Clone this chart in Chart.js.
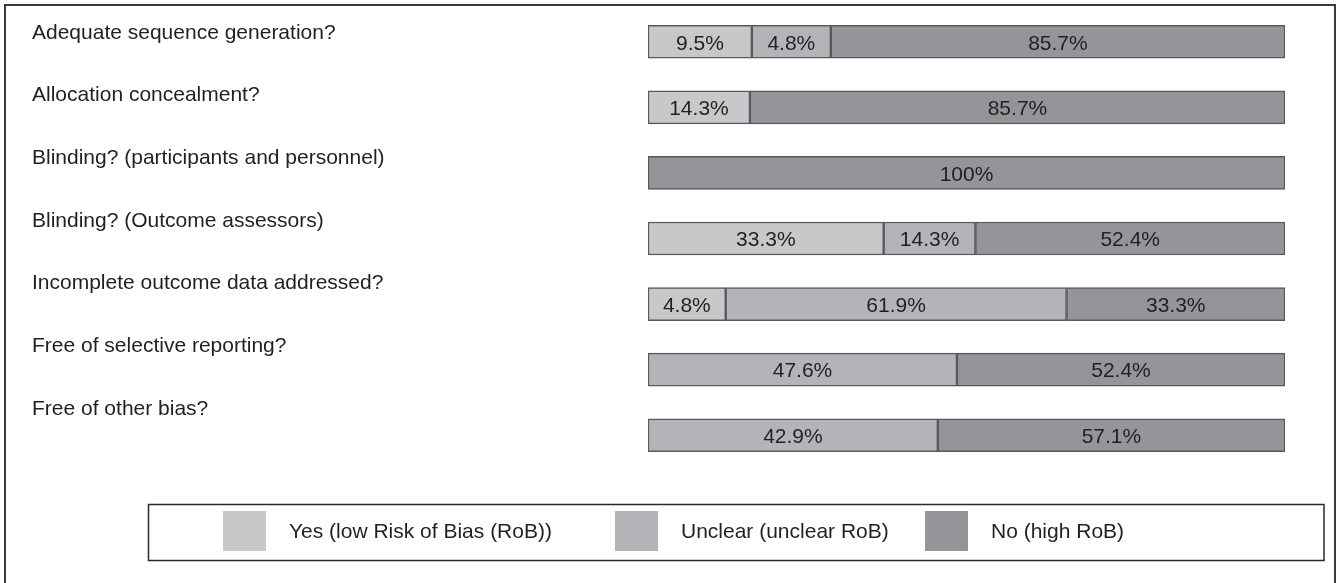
<!DOCTYPE html>
<html>
<head>
<meta charset="utf-8">
<title>Risk of bias summary</title>
<script src="https://cdn.jsdelivr.net/npm/chart.js@4.4.1/dist/chart.umd.min.js"></script>
<style>
  html, body { margin: 0; padding: 0; background: #fff; overflow: hidden; }
  #wrap { position: relative; width: 1337px; height: 583px; }
  #frame {
    position: absolute; left: 4px; top: 4px; width: 1332px; height: 640px;
    border: 2px solid #3a3a3a; box-sizing: border-box;
  }
  #chart { position: absolute; left: 0; top: 0; }
</style>
</head>
<body>
<div id="wrap">
  <div id="frame"></div>
  <canvas id="chart" width="1337" height="583"></canvas>
</div>
<script>
// ── Data ─────────────────────────────────────────────────────────────────────
const categories = [
    'Adequate sequence generation?',
    'Allocation concealment?',
    'Blinding? (participants and personnel)',
    'Blinding? (Outcome assessors)',
    'Incomplete outcome data addressed?',
    'Free of selective reporting?',
    'Free of other bias?',
];
const seriesNames = ['Yes (low Risk of Bias (RoB))', 'Unclear (unclear RoB)', 'No (high RoB)'];

// percentages printed inside the bars
const yesPct     = [9.5, 14.3, 0, 33.3, 4.8, 0, 0];
const unclearPct = [4.8, 0, 0, 14.3, 61.9, 47.6, 42.9];
const noPct      = [85.7, 85.7, 100, 52.4, 33.3, 52.4, 57.1];

// segment lengths as drawn in the figure (% of bar) - small shares are widened
// in the original so that their labels fit
const yesShown     = [16.3, 16.0, 0, 37.0, 12.2, 0, 0];
const unclearShown = [12.4, 0, 0, 14.4, 53.5, 48.5, 45.5];
const noShown      = [71.3, 84.0, 100, 48.6, 34.3, 51.5, 54.5];

const colors = ['#c7c8ca', '#b3b4b7', '#939598'];
const FONT = '"Liberation Sans", Arial, Helvetica, sans-serif';
const INK  = '#231f20';

// question text sits in its own column, a little tighter than the bars
const LABEL_X = 32;
const LABEL_FIRST_Y = 33;
const LABEL_LAST_Y  = 409;

// ── Plugins ──────────────────────────────────────────────────────────────────
const pctByDataset = [yesPct, unclearPct, noPct];

// percentage text centred in every segment
const segmentLabels = {
    id: 'segmentLabels',
    afterDatasetsDraw(chart) {
        const ctx = chart.ctx;
        ctx.save();
        ctx.font = '21px ' + FONT;
        ctx.fillStyle = INK;
        ctx.textAlign = 'center';
        ctx.textBaseline = 'middle';
        chart.data.datasets.forEach((ds, d) => {
            chart.getDatasetMeta(d).data.forEach((el, i) => {
                const v = pctByDataset[d][i];
                if (!v) return;
                ctx.fillText(v + '%', (el.x + el.base) / 2, el.y + 2);
            });
        });
        ctx.restore();
    },
};

// question text on the left
const rowLabels = {
    id: 'rowLabels',
    afterDraw(chart) {
        const ctx = chart.ctx;
        const step = (LABEL_LAST_Y - LABEL_FIRST_Y) / (categories.length - 1);
        ctx.save();
        ctx.font = '21px ' + FONT;
        ctx.fillStyle = INK;
        ctx.textAlign = 'left';
        ctx.textBaseline = 'middle';
        categories.forEach((c, i) => ctx.fillText(c, LABEL_X, LABEL_FIRST_Y + i * step));
        ctx.restore();
    },
};

// boxed legend along the bottom
const boxLegend = {
    id: 'boxLegend',
    afterDraw(chart) {
        const ctx = chart.ctx;
        const swatchX = [223, 615, 925];
        ctx.save();
        ctx.strokeStyle = '#2a2a2a';
        ctx.lineWidth = 1.5;
        ctx.strokeRect(148.5, 504.5, 1175.5, 56);
        ctx.font = '21px ' + FONT;
        ctx.textAlign = 'left';
        ctx.textBaseline = 'middle';
        chart.data.datasets.forEach((ds, d) => {
            ctx.fillStyle = ds.backgroundColor;
            ctx.fillRect(swatchX[d], 511, 43, 40);
            ctx.fillStyle = INK;
            ctx.fillText(ds.label, swatchX[d] + 66, 532);
        });
        ctx.restore();
    },
};

// ── Chart ────────────────────────────────────────────────────────────────────
const shown = [yesShown, unclearShown, noShown];

new Chart(document.getElementById('chart'), {
    type: 'bar',
    data: {
        labels: categories,
        datasets: seriesNames.map((name, d) => ({
            label: name,
            data: shown[d],
            backgroundColor: colors[d],
            borderColor: '#58595b',
            borderWidth: 1.5,
            borderSkipped: false,
            barThickness: 33,
        })),
    },
    options: {
        indexAxis: 'y',
        responsive: false,
        animation: false,
        layout: { padding: { left: 648, right: 52, top: 9, bottom: 115 } },
        plugins: {
            legend: { display: false },
            tooltip: { enabled: false },
        },
        scales: {
            x: { stacked: true, min: 0, max: 100, display: false },
            y: { stacked: true, display: false },
        },
    },
    plugins: [segmentLabels, rowLabels, boxLegend],
});
</script>
</body>
</html>
